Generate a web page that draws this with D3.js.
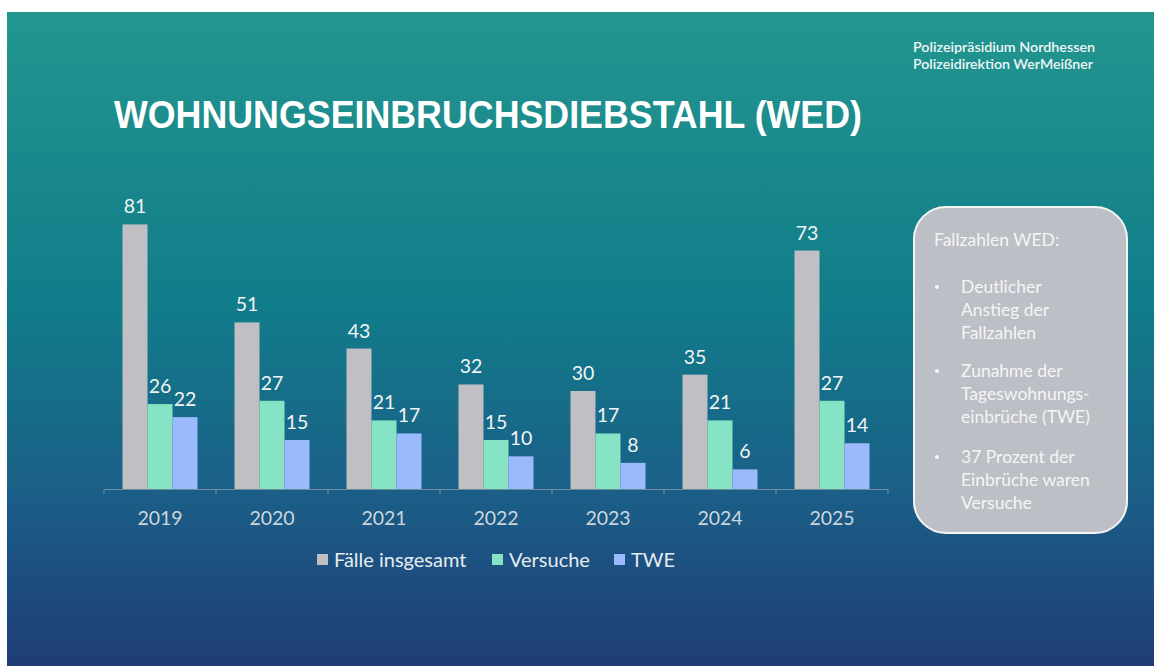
<!DOCTYPE html>
<html>
<head>
<meta charset="utf-8">
<script src="https://cdn.jsdelivr.net/npm/d3@7"></script>
<style>
  body { margin: 0; background: #fff; }
  svg { display: block; }
  text { font-family: Lato, "Open Sans", sans-serif; }
</style>
</head>
<body>
<div id="chart"></div>
<script>
// Data
let years = ["2019", "2020", "2021", "2022", "2023", "2024", "2025"];
let series = ["Fälle insgesamt", "Versuche", "TWE"];
let faelle = [81, 51, 43, 32, 30, 35, 73];
let versuche = [26, 27, 21, 15, 17, 21, 27];
let twe = [22, 15, 17, 10, 8, 6, 14];
let noteTitle = "Fallzahlen WED:";
let noteBullets = [
  ["Deutlicher", "Anstieg der", "Fallzahlen"],
  ["Zunahme der", "Tageswohnungs-", "einbrüche (TWE)"],
  ["37 Prozent der", "Einbrüche waren", "Versuche"],
];

let valuesBySeries = [faelle, versuche, twe];
let data = years.map((year, i) => ({
  year,
  values: series.map((s, j) => ({ series: s, value: valuesBySeries[j][i] })),
}));

// Set up dimensions
let width = 1154;
let height = 666;
let plot = { left: 104, right: 888, top: 195, bottom: 489 };

// Set up colors
let colors = ["#bfbfc4", "#86e3c4", "#9bb9fd"];
let textFill = "#f2f4f5";
let axisLabelFill = "#ccd6dd";

// Set up scales
let xScale = d3
  .scaleBand()
  .domain(years)
  .range([plot.left, plot.right])
  .paddingInner(0.33)
  .paddingOuter(0.165);

let xSubScale = d3
  .scaleBand()
  .domain(series)
  .range([0, xScale.bandwidth()]);

let yScale = d3
  .scaleLinear()
  .domain([0, 90])
  .range([plot.bottom, plot.top]);

let colorScale = d3.scaleOrdinal().domain(series).range(colors);

const svg = d3
  .select("#chart")
  .append("svg")
  .attr("width", width)
  .attr("height", height);

// Background gradient
const defs = svg.append("defs");
const grad = defs
  .append("linearGradient")
  .attr("id", "bg")
  .attr("x1", 0)
  .attr("y1", 0)
  .attr("x2", 0)
  .attr("y2", 1);
grad.append("stop").attr("offset", "0%").attr("stop-color", "#23968f");
grad.append("stop").attr("offset", "45%").attr("stop-color", "#117c8a");
grad.append("stop").attr("offset", "75%").attr("stop-color", "#1b5d87");
grad.append("stop").attr("offset", "100%").attr("stop-color", "#1f3c77");

svg
  .append("rect")
  .attr("x", 7)
  .attr("y", 12)
  .attr("width", width - 7)
  .attr("height", height - 12)
  .attr("fill", "url(#bg)");

// Header
svg
  .append("text")
  .attr("x", 913)
  .attr("y", 52)
  .attr("fill", "#eef6f5")
  .attr("font-size", 13)
  .attr("font-weight", 600)
  .attr("textLength", 182)
  .attr("lengthAdjust", "spacingAndGlyphs")
  .text("Polizeipräsidium Nordhessen");

svg
  .append("text")
  .attr("x", 913)
  .attr("y", 69)
  .attr("fill", "#eef6f5")
  .attr("font-size", 13)
  .attr("font-weight", 600)
  .attr("textLength", 180)
  .attr("lengthAdjust", "spacingAndGlyphs")
  .text("Polizeidirektion WerMeißner");

// Title
svg
  .append("text")
  .attr("x", 114)
  .attr("y", 128)
  .attr("fill", "#ffffff")
  .attr("font-weight", "bold")
  .attr("font-size", 39)
  .attr("textLength", 748)
  .attr("lengthAdjust", "spacingAndGlyphs")
  .style("font-family", "'Liberation Sans', Arial, sans-serif")
  .text("WOHNUNGSEINBRUCHSDIEBSTAHL (WED)");

// Draw x axis
const xAxisG = svg
  .append("g")
  .attr("transform", `translate(0,${plot.bottom})`)
  .call(
    d3
      .axisBottom(xScale)
      .tickSize(0)
      .tickPadding(22)
  );
xAxisG.select(".domain").attr("stroke", "#6f8d9c").attr("stroke-width", 1.2);
xAxisG
  .selectAll(".tick text")
  .attr("fill", axisLabelFill)
  .attr("font-size", 19.5)
  .style("font-family", "Lato, sans-serif");

// Category separators on the axis
let step = xScale.step();
let sepX = years.map((d) => xScale(d) - xScale.paddingInner() * step / 2).concat([plot.right]);
svg
  .append("g")
  .selectAll("line")
  .data(sepX)
  .join("line")
  .attr("x1", (d) => d)
  .attr("x2", (d) => d)
  .attr("y1", plot.bottom)
  .attr("y2", plot.bottom + 5)
  .attr("stroke", "#6f8d9c")
  .attr("stroke-width", 1);

// Draw bars
const groupG = svg
  .append("g")
  .selectAll("g")
  .data(data)
  .join("g")
  .attr("transform", (d) => `translate(${xScale(d.year)},0)`);

groupG
  .selectAll("rect")
  .data((d) => d.values)
  .join("rect")
  .attr("x", (d) => xSubScale(d.series))
  .attr("y", (d) => yScale(d.value))
  .attr("width", xSubScale.bandwidth())
  .attr("height", (d) => yScale(0) - yScale(d.value))
  .attr("fill", (d) => colorScale(d.series));

groupG
  .selectAll("text")
  .data((d) => d.values)
  .join("text")
  .attr("x", (d) => xSubScale(d.series) + xSubScale.bandwidth() / 2)
  .attr("y", (d) => yScale(d.value) - 11)
  .attr("text-anchor", "middle")
  .attr("fill", textFill)
  .attr("font-size", 19.5)
  .text((d) => d.value);

// Draw legend
let legendX = [317, 492, 614];
const legendItem = svg
  .append("g")
  .selectAll("g")
  .data(series)
  .join("g")
  .attr("transform", (d, i) => `translate(${legendX[i]},560)`);

legendItem
  .append("rect")
  .attr("y", -6)
  .attr("width", 11)
  .attr("height", 11)
  .attr("fill", (d) => colorScale(d));

legendItem
  .append("text")
  .attr("x", 17)
  .attr("y", 7)
  .attr("fill", "#e6ecef")
  .attr("font-size", 20)
  .text((d) => d);

// Note box
const note = svg.append("g");
note
  .append("rect")
  .attr("x", 914)
  .attr("y", 207)
  .attr("width", 213)
  .attr("height", 326)
  .attr("rx", 32)
  .attr("fill", "#bcbfc5")
  .attr("stroke", "#f4f4f4")
  .attr("stroke-width", 2);

note
  .append("text")
  .attr("x", 934)
  .attr("y", 246)
  .attr("fill", "#f4f5f6")
  .attr("font-size", 17.5)
  .text(noteTitle);

let bulletY = [293, 377, 463];
noteBullets.forEach((lines, i) => {
  note
    .append("circle")
    .attr("cx", 937)
    .attr("cy", bulletY[i] - 6)
    .attr("r", 2)
    .attr("fill", "#f4f5f6");
  note
    .append("g")
    .selectAll("text")
    .data(lines)
    .join("text")
    .attr("x", 961)
    .attr("y", (d, j) => bulletY[i] + j * 23)
    .attr("fill", "#f4f5f6")
    .attr("font-size", 17.5)
    .text((d) => d);
});
</script>
</body>
</html>
